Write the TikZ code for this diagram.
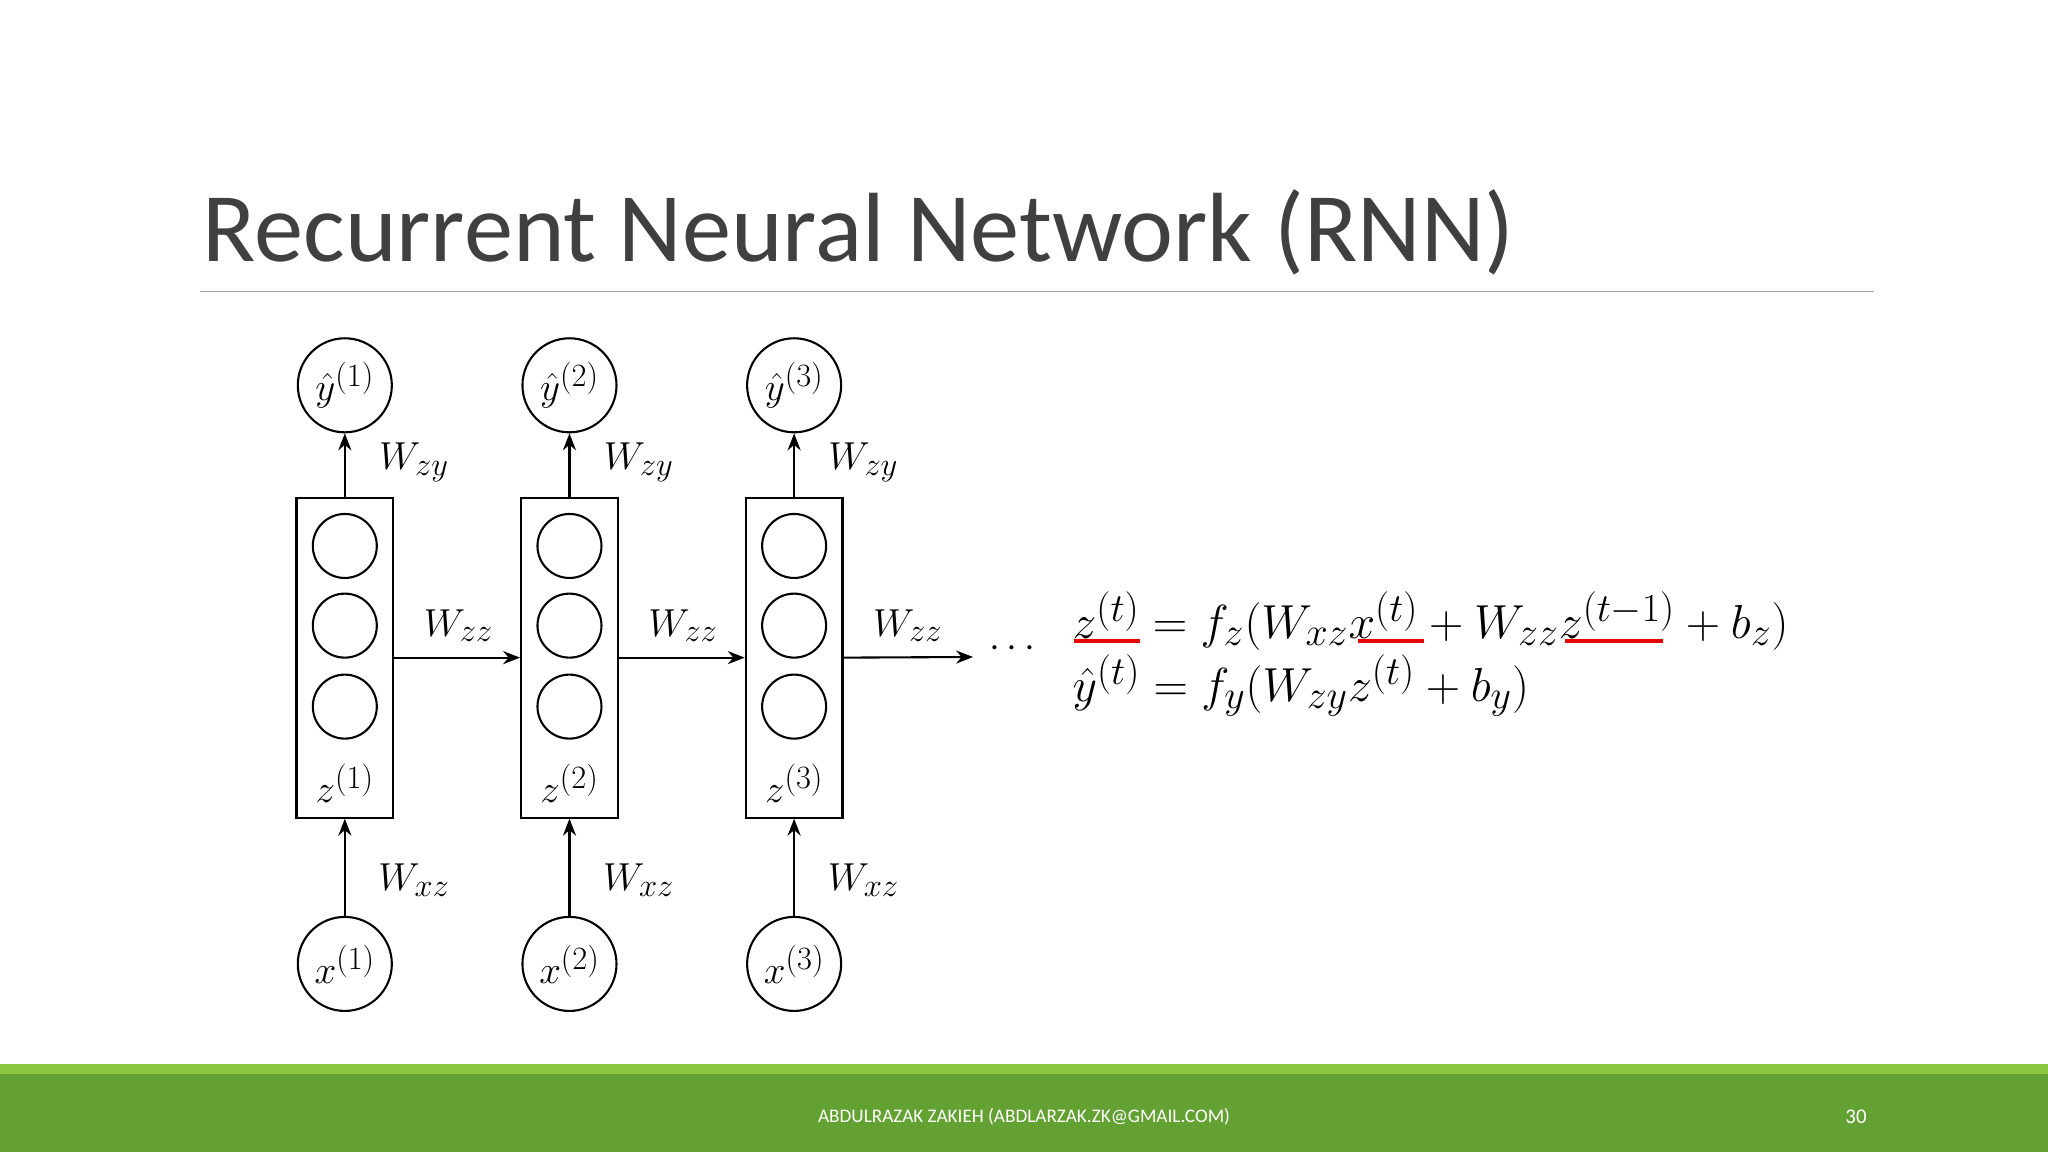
\documentclass[tikz,border=0pt]{standalone}
\usepackage{graphicx}
\usepackage{fontspec}
\newfontfamily\carl{Carlito}
\usetikzlibrary{arrows.meta}
\newcommand{\lb}[1]{\scalebox{1.2}{\fontsize{30}{34}\selectfont$#1$}}
\newcommand{\eqs}[1]{\scalebox{1.47}{\fontsize{32}{36}\selectfont$#1$}}
\begin{document}
\begin{tikzpicture}[x=1pt,y=-1pt,
  circ/.style={draw,circle,line width=1.6pt,minimum size=72pt,inner sep=0pt},
  ic/.style={draw,circle,line width=1.6pt,minimum size=49pt,inner sep=0pt},
  box/.style={draw,line width=1.6pt,minimum width=74pt,minimum height=245pt,inner sep=0pt},
  arr/.style={-{Stealth[length=13pt,width=10pt]},line width=1.6pt},
  lab/.style={inner sep=0pt},
  ul/.style={red!90!black,line width=3pt}]
\useasboundingbox (0,0) rectangle (1568,882);
\fill[white] (0,0) rectangle (1568,882);
\node[anchor=base west,inner sep=0pt,text=black!75,font=\carl\fontsize{75.3}{80}\selectfont] (title) at (155,200) {Recurrent Neural Network (RNN)};
\draw[black!35,line width=1pt] (153,223) -- (1435,223);
\fill[color={rgb,255:red,99;green,161;blue,51}] (0,822) rectangle (1568,882);
\fill[color={rgb,255:red,141;green,198;blue,63}] (0,815) rectangle (1568,822);
\node[text=white,font=\carl\fontsize{14.7}{16}\selectfont] (foot) at (784,855) {ABDULRAZAK ZAKIEH (ABDLARZAK.ZK@GMAIL.COM)};
\node[text=white,font=\carl\fontsize{16}{17}\selectfont] (pg) at (1421,855) {30};
\foreach \i/\x in {1/264,2/436,3/608}{
  \node[circ] (y\i) at (\x,295) {\lb{\hat y^{(\i)}}};
  \node[box] (b\i) at (\x,503.5) {};
  \node[ic] (c\i a) at (\x,418) {};
  \node[ic] (c\i b) at (\x,479) {};
  \node[ic] (c\i c) at (\x,541) {};
  \node[lab] (z\i) at (\x,600) {\lb{z^{(\i)}}};
  \node[circ] (x\i) at (\x,738) {\lb{x^{(\i)}}};
  \draw[arr] (b\i.north) -- (y\i.south);
  \draw[arr] (x\i.north) -- (b\i.south);
  \node[lab] (wzy\i) at (\x+53,354) {\lb{W_{zy}}};
  \node[lab] (wxz\i) at (\x+53,674) {\lb{W_{xz}}};
  \node[lab] (wzz\i) at (\x+87,479) {\lb{W_{zz}}};
}
\draw[arr] (b1.east) -- (b2.west);
\draw[arr] (b2.east) -- (b3.west);
\coordinate (end) at (745,503);
\draw[arr] (b3.east) -- (end);
\node[lab] (dots) at (775,497) {\lb{\cdots}};
\node[lab,anchor=base west] (eq1) at (821,489) {\eqs{z^{(t)} = f_z(W_{xz}x^{(t)} + W_{zz}z^{(t-1)} + b_z)}};
\node[lab,anchor=base west] (eq2) at (821,537) {\eqs{\hat y^{(t)} = f_y(W_{zy}z^{(t)} + b_y)}};
\draw[ul] (822,491) -- (873,491);
\draw[ul] (1040,491) -- (1090,491);
\draw[ul] (1198,491) -- (1273,491);
\end{tikzpicture}
\end{document}
